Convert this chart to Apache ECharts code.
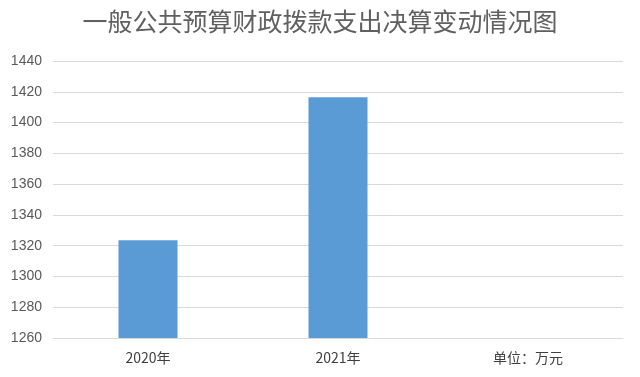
<!DOCTYPE html>
<html><head><meta charset="utf-8">
<script src="https://cdn.jsdelivr.net/npm/echarts@6/dist/echarts.min.js"></script>
<style>html,body{margin:0;padding:0;background:#fff}#c{width:640px;height:377px}</style>
</head><body><div id="c"></div>
<script>
const titleText = '一般公共预算财政拨款支出决算变动情况图';
const categories = ['2020年', '2021年', '单位：万元'];
const values = [1323.5, 1416.5, null];
const yTicks = {min: 1260, max: 1440, interval: 20};

const chart = echarts.init(document.getElementById('c'));
chart.setOption({
  animation: false,
  title: {text: titleText, left: 'center', top: 4,
    textStyle: {fontFamily: 'Noto Sans CJK SC', fontSize: 25, fontWeight: 'normal', color: '#606060'}},
  grid: {left: 53, right: 17, top: 61, bottom: 39},
  xAxis: {type: 'category', data: categories,
    axisLine: {lineStyle: {color: '#d9d9d9'}}, axisTick: {show: false},
    axisLabel: {margin: 13, color: '#404040', fontSize: 14, fontFamily: 'Noto Sans CJK SC'}},
  yAxis: {type: 'value', min: yTicks.min, max: yTicks.max, interval: yTicks.interval,
    axisLine: {show: false}, axisTick: {show: false},
    splitLine: {lineStyle: {color: '#d9d9d9'}},
    axisLabel: {margin: 11, color: '#595959', fontSize: 14, fontFamily: 'Liberation Sans',
      formatter: v => String(v)}},
  series: [{type: 'bar', data: values, barWidth: 59, itemStyle: {color: '#5B9BD5'}}]
});
</script></body></html>
